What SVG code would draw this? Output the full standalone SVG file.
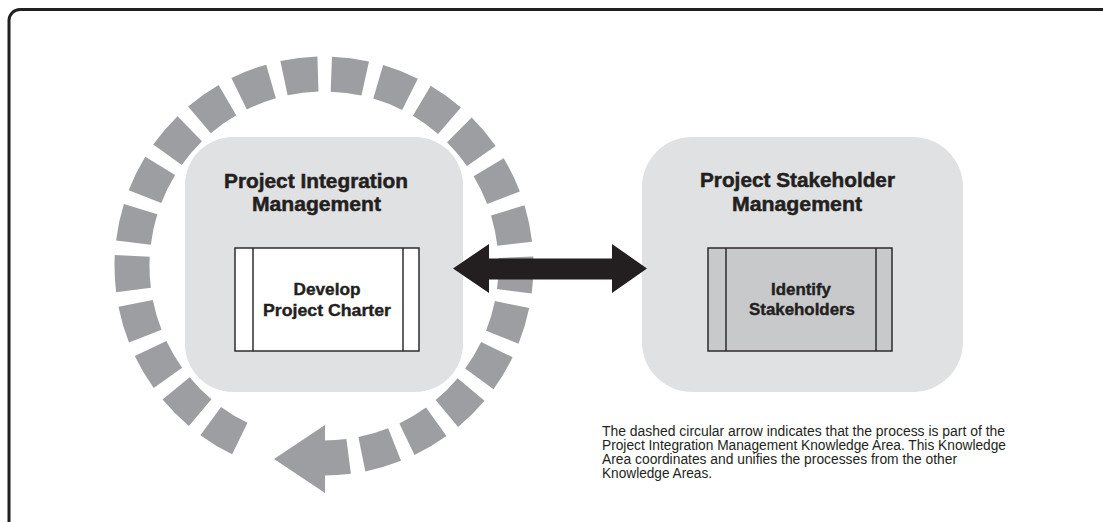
<svg xmlns="http://www.w3.org/2000/svg" width="1103" height="522" viewBox="0 0 1103 522">
  <style>
    .area { fill: #e0e1e3; }
    .proc { stroke: #231f20; stroke-width: 1.4; }
    .title { font-family: "Liberation Sans", Arial, sans-serif; font-weight: bold; font-size: 20px; fill: #231f20; stroke: #231f20; stroke-width: 0.5; text-anchor: middle; }
    .ptxt { font-family: "Liberation Sans", Arial, sans-serif; font-weight: bold; font-size: 17px; fill: #231f20; stroke: #231f20; stroke-width: 0.4; text-anchor: middle; }
    .note { font-family: "Liberation Sans", Arial, sans-serif; font-size: 14px; fill: #231f20; }
  </style>
  <rect x="9" y="9.5" width="1120" height="540" rx="11" fill="#ffffff" stroke="#231f20" stroke-width="3"/>

  <g id="cycle">
    <path d="M239.83,438.57 A192,192 0 1 1 324,458" pathLength="334" fill="none" stroke="#9d9ea1" stroke-width="35" stroke-dasharray="10.2 4"/>
    <polygon points="325,425 325,493 274,459" fill="#9d9ea1"/>
  </g>

  <g id="integration">
    <rect class="area" x="185" y="137" width="278" height="255" rx="48"/>
    <text class="title" x="316" y="187.5" textLength="184" lengthAdjust="spacingAndGlyphs">Project Integration</text>
    <text class="title" x="316.5" y="210.5" textLength="129" lengthAdjust="spacingAndGlyphs">Management</text>
  </g>

  <g id="develop-charter">
    <rect class="proc" x="235" y="248" width="184" height="103" fill="#ffffff"/>
    <line class="proc" x1="253" y1="248" x2="253" y2="351"/>
    <line class="proc" x1="403" y1="248" x2="403" y2="351"/>
    <text class="ptxt" x="327" y="295" textLength="67" lengthAdjust="spacingAndGlyphs">Develop</text>
    <text class="ptxt" x="327" y="315.5" textLength="128" lengthAdjust="spacingAndGlyphs">Project Charter</text>
  </g>

  <g id="stakeholder">
    <rect class="area" x="642" y="137" width="321" height="255" rx="50"/>
    <text class="title" x="797.5" y="187" textLength="195" lengthAdjust="spacingAndGlyphs">Project Stakeholder</text>
    <text class="title" x="797" y="210.5" textLength="130" lengthAdjust="spacingAndGlyphs">Management</text>
  </g>

  <g id="identify-stakeholders">
    <rect class="proc" x="708" y="248" width="184" height="103" fill="#c8c9cb"/>
    <line class="proc" x1="726" y1="248" x2="726" y2="351"/>
    <line class="proc" x1="876" y1="248" x2="876" y2="351"/>
    <text class="ptxt" x="801" y="294.5" textLength="60" lengthAdjust="spacingAndGlyphs">Identify</text>
    <text class="ptxt" x="802" y="315" textLength="106" lengthAdjust="spacingAndGlyphs">Stakeholders</text>
  </g>

  <g id="connectors">
    <polygon points="453,268.5 489,244 489,258.5 612,258.5 612,244 647,268.5 612,293 612,279.5 489,279.5 489,293" fill="#231f20"/>
  </g>

  <g id="note">
    <text class="note" x="602" y="435.5" textLength="403" lengthAdjust="spacingAndGlyphs">The dashed circular arrow indicates that the process is part of the</text>
    <text class="note" x="602" y="450" textLength="404" lengthAdjust="spacingAndGlyphs">Project Integration Management Knowledge Area. This Knowledge</text>
    <text class="note" x="602" y="464.3" textLength="355" lengthAdjust="spacingAndGlyphs">Area coordinates and unifies the processes from the other</text>
    <text class="note" x="602" y="478.3" textLength="110" lengthAdjust="spacingAndGlyphs">Knowledge Areas.</text>
  </g>
</svg>
